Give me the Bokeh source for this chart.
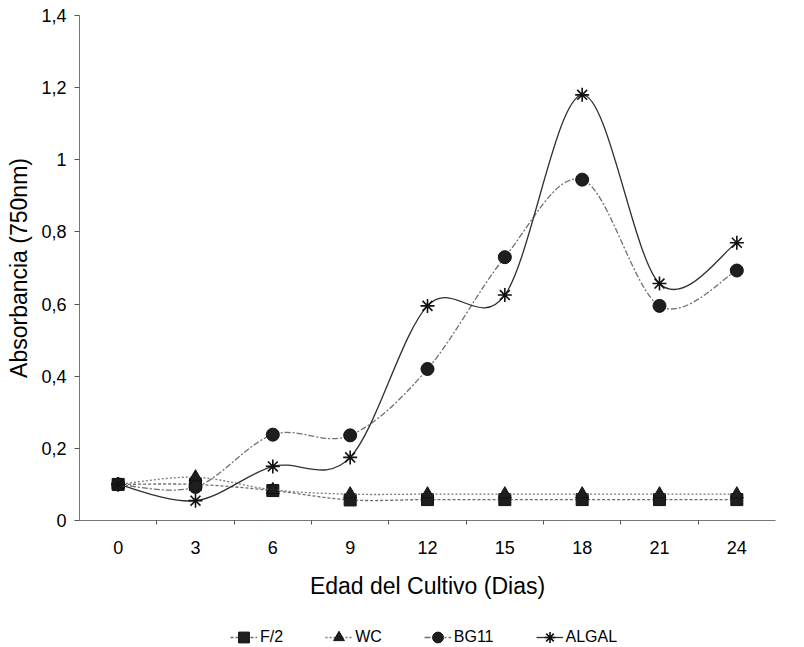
import numpy as np
from bokeh.plotting import figure
from bokeh.layouts import column
from bokeh.models import Range1d, FixedTicker, Legend, LegendItem
from bokeh.embed import file_html
from bokeh.resources import INLINE

dias = [0, 3, 6, 9, 12, 15, 18, 21, 24]
x_labels = ["0", "3", "6", "9", "12", "15", "18", "21", "24"]
f2 = [0.10, 0.10, 0.083, 0.057, 0.058, 0.058, 0.058, 0.058, 0.058]
wc = [0.10, 0.12, 0.085, 0.073, 0.073, 0.073, 0.073, 0.073, 0.073]
bg11 = [0.10, 0.093, 0.238, 0.236, 0.42, 0.73, 0.945, 0.595, 0.693]
algal = [0.10, 0.055, 0.15, 0.175, 0.595, 0.625, 1.18, 0.657, 0.77]
y_ticks = [0, 0.2, 0.4, 0.6, 0.8, 1.0, 1.2, 1.4]
y_labels = ["0", "0,2", "0,4", "0,6", "0,8", "1", "1,2", "1,4"]

FONT = "Liberation Sans"

p = figure(width=804, frame_width=696, frame_height=505,
           output_backend="svg", toolbar_location=None,
           x_range=Range1d(-1.5, 25.5), y_range=Range1d(0, 1.4),
           min_border_left=79, min_border_right=29, min_border_top=15,
           min_border_bottom=0)
p.outline_line_color = None
p.xgrid.grid_line_color = None
p.ygrid.grid_line_color = None
p.background_fill_color = "white"
p.border_fill_color = "white"


def smooth(xs, ys):
    xs = np.asarray(xs, float)
    ys = np.asarray(ys, float)
    n = len(xs)
    x0, y0, x1, y1, cx0, cy0, cx1, cy1 = [], [], [], [], [], [], [], []
    for i in range(n - 1):
        a = max(i - 1, 0)
        d = min(i + 2, n - 1)
        x0.append(xs[i]); y0.append(ys[i])
        x1.append(xs[i + 1]); y1.append(ys[i + 1])
        cx0.append(xs[i] + (xs[i + 1] - xs[a]) / 6)
        cy0.append(ys[i] + (ys[i + 1] - ys[a]) / 6)
        cx1.append(xs[i + 1] - (xs[d] - xs[i]) / 6)
        cy1.append(ys[i + 1] - (ys[d] - ys[i]) / 6)
    return dict(x0=x0, y0=y0, x1=x1, y1=y1, cx0=cx0, cy0=cy0, cx1=cx1, cy1=cy1)


series = [
    ("F/2", f2, "square", 12, "#6a6a6a", "3 2"),
    ("WC", wc, "triangle", 13, "#7a7a7a", "2 2"),
    ("BG11", bg11, "circle", 13, "#707070", "6 2 2 2"),
    ("ALGAL", algal, "asterisk", 14, "#303030", "solid"),
]

# separate strip that holds the legend below the chart
lg = figure(width=804, height=47, output_backend="svg", toolbar_location=None,
            x_range=Range1d(0, 1), y_range=Range1d(0, 1),
            x_axis_location=None, y_axis_location=None, min_border=0)
lg.outline_line_color = None
lg.xgrid.grid_line_color = None
lg.ygrid.grid_line_color = None

items = []
for name, ys, marker, size, col, dash in series:
    s = smooth(dias, ys)
    p.bezier(source=s, x0="x0", y0="y0", x1="x1", y1="y1", cx0="cx0", cy0="cy0",
             cx1="cx1", cy1="cy1", line_color=col, line_width=1.3, line_dash=dash)
    if marker == "asterisk":
        p.scatter(dias, ys, marker=marker, size=size, line_color="#111111", line_width=1.6)
    else:
        p.scatter(dias, ys, marker=marker, size=size, fill_color="#1e1e1e",
                  line_color="#111111", line_width=1)
    lr = lg.line([np.nan], [np.nan], line_color=col, line_width=1.3, line_dash=dash)
    if marker == "asterisk":
        sr = lg.scatter([np.nan], [np.nan], marker=marker, size=size - 2,
                        line_color="#111111", line_width=1.6)
    else:
        sr = lg.scatter([np.nan], [np.nan], marker=marker, size=size - 2,
                        fill_color="#1e1e1e", line_color="#111111", line_width=1)
    items.append(LegendItem(label=name, renderers=[lr, sr]))

# axes
p.xaxis.ticker = FixedTicker(ticks=dias, minor_ticks=[1.5, 4.5, 7.5, 10.5, 13.5, 16.5, 19.5, 22.5])
p.xaxis.major_label_overrides = {d: l for d, l in zip(dias, x_labels)}
p.xaxis.major_tick_out = 0
p.xaxis.major_tick_in = 0
p.xaxis.minor_tick_out = 4
p.xaxis.minor_tick_in = 0
p.xaxis.minor_tick_line_color = "#555555"
p.xaxis.axis_line_color = "#777777"
p.xaxis.axis_label = "Edad del Cultivo (Dias)"
p.xaxis.axis_label_text_font = FONT
p.xaxis.axis_label_text_font_style = "normal"
p.xaxis.axis_label_text_font_size = "23px"
p.xaxis.axis_label_text_color = "black"
p.xaxis.axis_label_standoff = 16
p.xaxis.major_label_text_font = FONT
p.xaxis.major_label_text_font_size = "18px"
p.xaxis.major_label_text_color = "black"
p.xaxis.major_label_standoff = 16

p.yaxis.ticker = FixedTicker(ticks=y_ticks, minor_ticks=[])
p.yaxis.major_label_overrides = {t: l for t, l in zip(y_ticks, y_labels)}
p.yaxis.major_tick_out = 5
p.yaxis.major_tick_in = 0
p.yaxis.major_tick_line_color = "#555555"
p.yaxis.axis_line_color = "#777777"
p.yaxis.axis_label = "Absorbancia (750nm)"
p.yaxis.axis_label_text_font = FONT
p.yaxis.axis_label_text_font_style = "normal"
p.yaxis.axis_label_text_font_size = "23px"
p.yaxis.axis_label_text_color = "black"
p.yaxis.axis_label_standoff = 6
p.yaxis.major_label_text_font = FONT
p.yaxis.major_label_text_font_size = "18px"
p.yaxis.major_label_text_color = "black"
p.yaxis.major_label_standoff = 8

legend = Legend(items=items, orientation="horizontal", location=(151, -3),
                label_text_font=FONT, label_text_font_size="16px",
                label_text_color="black",
                spacing=42, glyph_width=27, label_standoff=3,
                label_height=16, glyph_height=28,
                border_line_color=None, background_fill_alpha=0,
                padding=0, margin=0)
lg.add_layout(legend, "center")

layout = column(p, lg, spacing=0)
open("out.html", "w").write(file_html(layout, INLINE))
